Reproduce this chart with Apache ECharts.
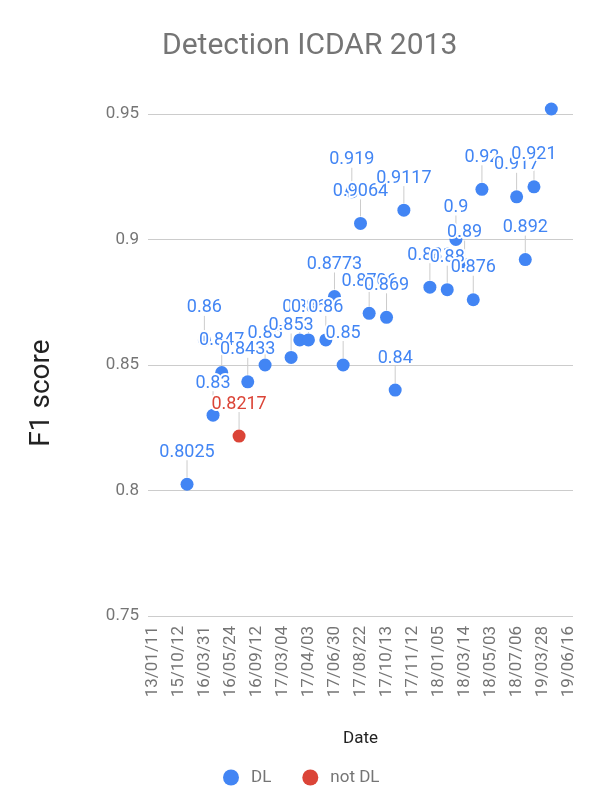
<!DOCTYPE html>
<html><head><meta charset="utf-8">
<script src="https://cdn.jsdelivr.net/npm/echarts@6/dist/echarts.min.js"></script>
<style>html,body{margin:0;padding:0;background:#fff}#c{width:603px;height:812px}</style>
</head><body><div id="c"></div>
<script>
// ---- data ----
const tickLabels = ['13/01/11','15/10/12','16/03/31','16/05/24','16/09/12','17/03/04','17/04/03','17/06/30','17/08/22','17/10/13','17/11/12','18/01/05','18/03/14','18/05/03','18/07/06','19/03/28','19/06/16'];
const categoryCount = 49;
const dlX = [4, 6, 7, 8, 11, 13, 16, 17, 18, 20, 21, 22, 23, 24, 25, 27, 28, 29, 32, 34, 35, 36, 37, 38, 42, 43, 44, 46];
const dlY = [0.8025, 0.86, 0.83, 0.847, 0.8433, 0.85, 0.853, 0.86, 0.86, 0.86, 0.8773, 0.85, 0.919, 0.9064, 0.8706, 0.869, 0.84, 0.9117, 0.881, 0.88, 0.9, 0.89, 0.876, 0.92, 0.917, 0.892, 0.921, 0.952];
const notDlX = [10];
const notDlY = [0.8217];
const unlabeledX = [46];

const BLUE = '#4285F4', RED = '#DB4437';
const categories = Array.from({length: categoryCount}, (_, i) => String(i));
const dlData = dlX.map((x, i) => [x, dlY[i]]);
const notDlData = notDlX.map((x, i) => [x, notDlY[i]]);

// annotations (label + stem), ordered by x
const annot = [];
dlX.forEach((x, i) => { if (!unlabeledX.includes(x)) annot.push({x, y: dlY[i], c: BLUE}); });
notDlX.forEach((x, i) => annot.push({x, y: notDlY[i], c: RED}));
annot.sort((a, b) => a.x - b.x);
const annotData = annot.map(a => [a.x, a.y]);

const FONT = 'Roboto';
const chart = echarts.init(document.getElementById('c'), null, {renderer: 'canvas'});
chart.setOption({
  animation: false,
  backgroundColor: '#fff',
  title: {
    text: 'Detection ICDAR 2013', left: 157, top: 26,
    textStyle: {fontFamily: FONT, fontSize: 30, fontWeight: 'normal', color: '#757575'}
  },
  legend: {
    data: ['DL', 'not DL'], icon: 'circle', itemWidth: 30, itemHeight: 16, itemGap: 31,
    left: 218, top: 764,
    textStyle: {fontFamily: FONT, fontSize: 17, color: '#757575'}
  },
  grid: {left: 148, right: 30, top: 114, bottom: 196},
  xAxis: {
    type: 'category', data: categories, boundaryGap: true,
    axisLine: {show: false}, axisTick: {show: false},
    axisLabel: {
      interval: 2, rotate: 90, margin: 10, fontFamily: FONT, fontSize: 17, color: '#757575',
      formatter: v => (+v % 3 === 0 ? tickLabels[+v / 3] : '')
    },
    name: 'Date', nameLocation: 'middle', nameGap: 114,
    nameTextStyle: {fontFamily: FONT, fontSize: 17, color: '#222'}
  },
  yAxis: {
    type: 'value', min: 0.75, max: 0.95, interval: 0.05,
    axisLine: {show: false}, axisTick: {show: false},
    axisLabel: {fontFamily: FONT, fontSize: 17, color: '#757575', margin: 9},
    splitLine: {lineStyle: {color: '#cccccc', width: 1}}
  },
  graphic: [{
    type: 'text', x: 42, y: 393, rotation: Math.PI / 2,
    style: {text: 'F1 score', fontFamily: FONT, fontSize: 28, fill: '#222', align: 'center', verticalAlign: 'middle'}
  }],
  series: [
    {
      type: 'custom', name: 'stems', z: 1, silent: true, clip: false,
      data: annotData,
      renderItem: (params, api) => {
        const p = api.coord([api.value(0), api.value(1)]);
        return {type: 'line', shape: {x1: p[0], y1: p[1] - 7, x2: p[0], y2: p[1] - 24},
                style: {stroke: '#cccccc', lineWidth: 1}};
      }
    },
    {
      type: 'scatter', name: 'DL', z: 2, clip: false, symbolSize: 13,
      itemStyle: {color: BLUE, opacity: 1}, data: dlData
    },
    {
      type: 'scatter', name: 'not DL', z: 2, clip: false, symbolSize: 13,
      itemStyle: {color: RED, opacity: 1}, data: notDlData
    },
    {
      type: 'custom', name: 'labels', z: 5, silent: true, clip: false,
      data: annotData,
      renderItem: (params, api) => {
        const a = annot[params.dataIndex];
        const p = api.coord([api.value(0), api.value(1)]);
        return {type: 'text', x: p[0], y: p[1] - 32,
                style: {text: String(a.y), fontFamily: FONT, fontSize: 18, fill: a.c,
                        align: 'center', verticalAlign: 'middle',
                        stroke: '#fff', lineWidth: 4, strokeFirst: true}};
      }
    }
  ]
});
</script></body></html>
